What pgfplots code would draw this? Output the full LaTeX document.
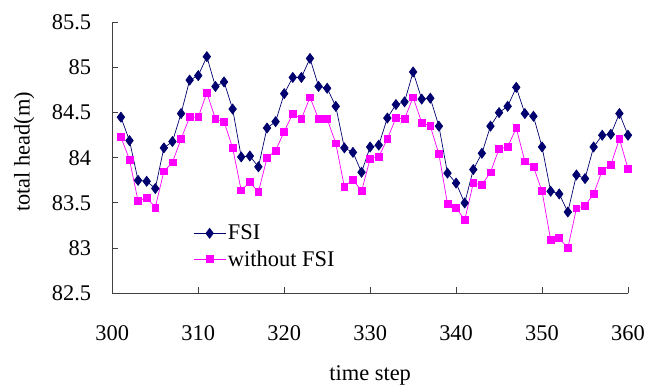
\documentclass[border=0pt]{standalone}
\usepackage{pgfplots}
\pgfplotsset{compat=1.18}
\usepackage{fontspec}
\setmainfont{Liberation Serif}
\definecolor{fsi}{RGB}{0,0,110}
\definecolor{nofsi}{RGB}{255,0,255}
\definecolor{axgray}{RGB}{64,64,64}
\newcommand{\bigf}{\fontsize{22.5}{26}\selectfont}
\begin{document}
\begin{tikzpicture}
\begin{axis}[
  name=ax,
  scale only axis, width=515.7bp, height=271bp,
  xmin=300, xmax=360, ymin=82.5, ymax=85.5,
  axis x line=bottom, axis y line=left,
  axis line style={-, axgray, line width=1pt},
  tick style={axgray, line width=1pt},
  tick align=inside,
  major tick length=6bp,
  xtick={300,310,...,360},
  ytick={82.5,83,...,85.5},
  /pgf/number format/assume math mode=true,
  /pgf/number format/fixed,
  tick label style={font=\bigf},
  label style={font=\bigf},
  xticklabel style={anchor=center, yshift=-40bp},
  yticklabel style={anchor=east, inner xsep=0pt, xshift=-21bp},
  xlabel={time step},
  ylabel={total head(m)},
  xlabel style={at={(axis description cs:0.5,0)}, anchor=center, yshift=-82bp},
  ylabel style={at={(axis description cs:0,0.5)}, anchor=center, yshift=88bp, xshift=6bp},
  legend style={draw=none, fill=none, at={(axis cs:309.4,83.02)}, anchor=west, inner xsep=0pt, row sep=5bp, font=\bigf},
  legend cell align=left,
  legend image code/.code={\draw[mark repeat=2, mark phase=2] plot coordinates {(0bp,0bp)(16bp,0bp)(32bp,0bp)};},
  clip=false,
]
\addplot[fsi, line width=0.7pt, mark=diamond*, mark size=5bp, mark options={fill=fsi, draw=fsi}] coordinates {
(301,84.45)(302,84.19)(303,83.75)(304,83.74)(305,83.66)(306,84.11)(307,84.18)(308,84.49)(309,84.86)(310,84.91)
(311,85.12)(312,84.79)(313,84.84)(314,84.54)(315,84.01)(316,84.02)(317,83.90)(318,84.33)(319,84.40)(320,84.71)
(321,84.89)(322,84.89)(323,85.10)(324,84.79)(325,84.77)(326,84.57)(327,84.11)(328,84.06)(329,83.84)(330,84.12)
(331,84.14)(332,84.44)(333,84.59)(334,84.62)(335,84.95)(336,84.65)(337,84.66)(338,84.35)(339,83.83)(340,83.72)
(341,83.50)(342,83.87)(343,84.05)(344,84.35)(345,84.50)(346,84.57)(347,84.78)(348,84.49)(349,84.46)(350,84.12)
(351,83.63)(352,83.60)(353,83.40)(354,83.81)(355,83.77)(356,84.12)(357,84.25)(358,84.26)(359,84.49)(360,84.25)
};
\addlegendentry{FSI}
\addplot[nofsi, line width=0.7pt, mark=square*, mark size=3.4bp, mark options={fill=nofsi, draw=nofsi}] coordinates {
(301,84.23)(302,83.98)(303,83.52)(304,83.56)(305,83.45)(306,83.85)(307,83.95)(308,84.21)(309,84.45)(310,84.45)
(311,84.72)(312,84.43)(313,84.40)(314,84.11)(315,83.64)(316,83.73)(317,83.62)(318,84.00)(319,84.08)(320,84.29)
(321,84.49)(322,84.43)(323,84.67)(324,84.43)(325,84.43)(326,84.16)(327,83.68)(328,83.76)(329,83.63)(330,83.99)
(331,84.01)(332,84.21)(333,84.44)(334,84.43)(335,84.67)(336,84.39)(337,84.35)(338,84.04)(339,83.49)(340,83.45)
(341,83.31)(342,83.72)(343,83.70)(344,83.84)(345,84.10)(346,84.12)(347,84.33)(348,83.96)(349,83.90)(350,83.63)
(351,83.09)(352,83.11)(353,83.00)(354,83.44)(355,83.47)(356,83.60)(357,83.86)(358,83.92)(359,84.21)(360,83.88)
};
\addlegendentry{without FSI}
\end{axis}
\pgfresetboundingbox
\path[use as bounding box] ([shift={(-112.3bp,-93.7bp)}]ax.south west) rectangle ([shift={(22bp,22.3bp)}]ax.north east);
\end{tikzpicture}
\end{document}
